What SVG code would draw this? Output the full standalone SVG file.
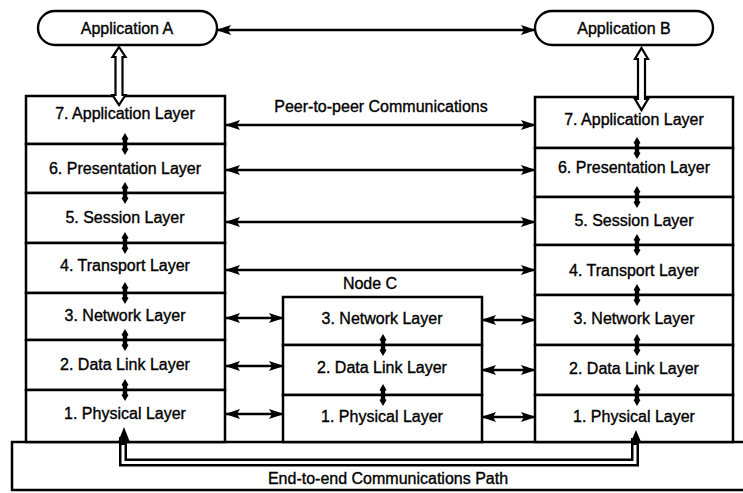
<svg xmlns="http://www.w3.org/2000/svg" width="743" height="493" viewBox="0 0 743 493">
<style>
.box{fill:#fff;stroke:#000;stroke-width:2.5}
.app{fill:#fff;stroke:#000;stroke-width:2.4}
.t{font-family:"Liberation Sans",Arial,sans-serif;font-size:16px;fill:#000;stroke:#000;stroke-width:0.35;text-anchor:middle}
.arr{stroke:#000;stroke-width:2.4;fill:none;marker-start:url(#ah);marker-end:url(#ah)}
.hollow{fill:#fff;stroke:#000;stroke-width:2.2}
</style>
<defs>
<marker id="ah" markerUnits="userSpaceOnUse" markerWidth="15" markerHeight="10" refX="14" refY="5" orient="auto-start-reverse">
<path d="M0,0 L15,5 L0,10 L3,5 z" fill="#000"/>
</marker>
<path id="sc" d="M0,-11 L3.5,-5 L2.2,-4 L2.2,4 L3.5,5 L0,11 L-3.5,5 L-2.2,4 L-2.2,-4 L-3.5,-5 z" fill="#000"/>
</defs>

<g id="path-box">
<rect class="box" x="12" y="442" width="740" height="48"/>
<text class="t" x="388" y="484">End-to-end Communications Path</text>
</g>

<g id="appA">
<rect class="app" x="38" y="11" width="179" height="34" rx="17"/>
<text class="t" x="127" y="34">Application A</text>
</g>
<g id="appB">
<rect class="app" x="535" y="11" width="178" height="34" rx="17"/>
<text class="t" x="624" y="34">Application B</text>
</g>

<g id="stackA">
<g id="A7"><rect class="box" x="26" y="96" width="199" height="48"/><text class="t" x="125" y="119">7. Application Layer</text></g>
<g id="A6"><rect class="box" x="26" y="144" width="199" height="49"/><text class="t" x="125" y="174">6. Presentation Layer</text></g>
<g id="A5"><rect class="box" x="26" y="193" width="199" height="50"/><text class="t" x="125" y="223">5. Session Layer</text></g>
<g id="A4"><rect class="box" x="26" y="243" width="199" height="50"/><text class="t" x="125" y="271">4. Transport Layer</text></g>
<g id="A3"><rect class="box" x="26" y="293" width="199" height="47"/><text class="t" x="125" y="321">3. Network Layer</text></g>
<g id="A2"><rect class="box" x="26" y="340" width="199" height="50"/><text class="t" x="125" y="370">2. Data Link Layer</text></g>
<g id="A1"><rect class="box" x="26" y="390" width="199" height="52"/><text class="t" x="125" y="419">1. Physical Layer</text></g>
</g>

<g id="stackB">
<g id="B7"><rect class="box" x="535" y="97" width="198" height="51"/><text class="t" x="634" y="125">7. Application Layer</text></g>
<g id="B6"><rect class="box" x="535" y="148" width="198" height="49"/><text class="t" x="634" y="173">6. Presentation Layer</text></g>
<g id="B5"><rect class="box" x="535" y="197" width="198" height="48"/><text class="t" x="634" y="226">5. Session Layer</text></g>
<g id="B4"><rect class="box" x="535" y="245" width="198" height="50"/><text class="t" x="634" y="276">4. Transport Layer</text></g>
<g id="B3"><rect class="box" x="535" y="295" width="198" height="50"/><text class="t" x="634" y="324">3. Network Layer</text></g>
<g id="B2"><rect class="box" x="535" y="345" width="198" height="50"/><text class="t" x="634" y="374">2. Data Link Layer</text></g>
<g id="B1"><rect class="box" x="535" y="395" width="198" height="47"/><text class="t" x="634" y="422">1. Physical Layer</text></g>
</g>

<g id="nodeC">
<text class="t" x="370" y="289">Node C</text>
<g id="C3"><rect class="box" x="283" y="297" width="199" height="48"/><text class="t" x="382" y="324">3. Network Layer</text></g>
<g id="C2"><rect class="box" x="283" y="345" width="199" height="50"/><text class="t" x="382" y="373">2. Data Link Layer</text></g>
<g id="C1"><rect class="box" x="283" y="395" width="199" height="47"/><text class="t" x="382" y="422">1. Physical Layer</text></g>
</g>

<g id="connectors">
<line class="arr" x1="217" y1="30" x2="535" y2="30"/>
<polygon class="hollow" points="119,47 125.5,57 122.5,57 122.5,95 125.5,95 119,105 112.5,95 115.5,95 115.5,57 112.5,57"/>
<polygon class="hollow" points="641.5,48 648,59 645,59 645,99 648,99 641.5,110 635,99 638,99 638,59 635,59"/>

<text class="t" x="381" y="112">Peer-to-peer Communications</text>
<line class="arr" x1="226" y1="125" x2="535" y2="125"/>
<line class="arr" x1="226" y1="170" x2="535" y2="170"/>
<line class="arr" x1="226" y1="222" x2="535" y2="222"/>
<line class="arr" x1="226" y1="270" x2="535" y2="270"/>

<line class="arr" x1="226" y1="318" x2="283" y2="318"/>
<line class="arr" x1="226" y1="366" x2="283" y2="366"/>
<line class="arr" x1="226" y1="414" x2="283" y2="414"/>
<line class="arr" x1="482" y1="320" x2="535" y2="320"/>
<line class="arr" x1="482" y1="370" x2="535" y2="370"/>
<line class="arr" x1="482" y1="417" x2="535" y2="417"/>

<use href="#sc" x="125" y="144"/>
<use href="#sc" x="125" y="193"/>
<use href="#sc" x="125" y="243"/>
<use href="#sc" x="125" y="293"/>
<use href="#sc" x="125" y="340"/>
<use href="#sc" x="125" y="390"/>
<use href="#sc" x="637" y="148"/>
<use href="#sc" x="637" y="197"/>
<use href="#sc" x="637" y="245"/>
<use href="#sc" x="637" y="295"/>
<use href="#sc" x="637" y="345"/>
<use href="#sc" x="637" y="395"/>
<use href="#sc" x="383" y="345"/>
<use href="#sc" x="383" y="395"/>

<path d="M123,437 V462.5 H635 V438" fill="none" stroke="#000" stroke-width="8"/>
<path d="M123,445 V462.5 H635 V445" fill="none" stroke="#fff" stroke-width="3"/>
<polygon points="124,427 129.5,441 118.5,441" fill="#000"/>
<polygon points="636,430 641.5,443 630.5,443" fill="#000"/>
</g>
</svg>
